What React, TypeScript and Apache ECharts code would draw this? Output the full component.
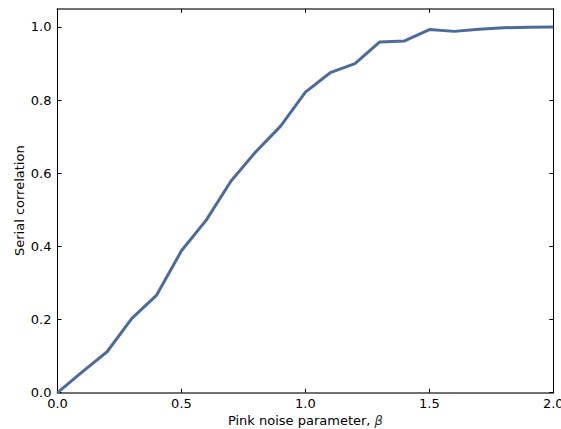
import React, { useEffect, useRef } from "react";
import * as echarts from "echarts";

const betas = [0, 0.1, 0.2, 0.3, 0.4, 0.5, 0.6, 0.7, 0.8, 0.9, 1.0, 1.1, 1.2, 1.3, 1.4, 1.5, 1.6, 1.7, 1.8, 1.9, 2.0];
const serialCorr = [0.0, 0.057, 0.112, 0.203, 0.267, 0.388, 0.472, 0.579, 0.659, 0.729, 0.822, 0.875, 0.9, 0.959, 0.962, 0.993, 0.988, 0.994, 0.998, 0.999, 1.0];
const xTicks = [0, 0.5, 1.0, 1.5, 2.0];
const yTicks = [0, 0.2, 0.4, 0.6, 0.8, 1.0];

const FONT = "DejaVu Sans";

export default function App() {
  const ref = useRef<HTMLDivElement>(null);
  useEffect(() => {
    if (!ref.current) return;
    const chart = echarts.init(ref.current, undefined, { renderer: "svg" });
    const tickStyle = { show: true, inside: true, length: 4, lineStyle: { color: "#000", width: 1 } };
    const hSpine = { show: true, onZero: false, lineStyle: { color: "#707070", width: 2 } };
    const vSpine = { show: true, onZero: false, lineStyle: { color: "#000", width: 1 } };
    chart.setOption({
      animation: false,
      grid: { left: 57.5, right: 7.7, top: 8.7, bottom: 36.3, containLabel: false, outerBoundsMode: "none" },
      xAxis: [
        {
          type: "value",
          position: "bottom",
          min: 0,
          max: 2,
          interval: 0.5,
          axisLine: hSpine,
          axisTick: { ...tickStyle, customValues: xTicks },
          axisLabel: {
            customValues: xTicks,
            formatter: (v: number) => v.toFixed(1),
            color: "#000",
            fontFamily: FONT,
            fontSize: 13,
            margin: 4,
          },
          splitLine: { show: false },
          name: "Pink noise parameter, {b|β}",
          nameLocation: "middle",
          nameGap: 21,
          nameMoveOverlap: false,
          nameTextStyle: {
            color: "#000",
            fontFamily: FONT,
            fontSize: 13,
            rich: { b: { fontStyle: "italic", fontFamily: FONT, fontSize: 13, color: "#333" } },
          },
        },
        {
          type: "value",
          position: "top",
          min: 0,
          max: 2,
          interval: 0.5,
          axisLine: hSpine,
          axisTick: { ...tickStyle, customValues: xTicks },
          axisLabel: { show: false },
          splitLine: { show: false },
        },
      ],
      yAxis: [
        {
          type: "value",
          position: "left",
          min: 0,
          max: 1.05,
          axisLine: vSpine,
          axisTick: { ...tickStyle, customValues: yTicks },
          axisLabel: {
            customValues: yTicks,
            formatter: (v: number) => v.toFixed(1),
            color: "#000",
            fontFamily: FONT,
            fontSize: 13,
            margin: 6,
          },
          splitLine: { show: false },
          name: "Serial correlation",
          nameLocation: "middle",
          nameGap: 32,
          nameMoveOverlap: false,
          nameTextStyle: { color: "#000", fontFamily: FONT, fontSize: 13 },
        },
        {
          type: "value",
          position: "right",
          min: 0,
          max: 1.05,
          axisLine: vSpine,
          axisTick: { ...tickStyle, customValues: yTicks },
          axisLabel: { show: false },
          splitLine: { show: false },
        },
      ],
      series: [
        {
          type: "line",
          xAxisIndex: 0,
          yAxisIndex: 0,
          data: betas.map((b, i) => [b, serialCorr[i]]),
          showSymbol: false,
          symbol: "none",
          lineStyle: { color: "#4C6B9A", width: 3 },
          clip: false,
        },
      ],
    });
    return () => chart.dispose();
  }, []);
  return (
    <div
      ref={ref}
      style={{ position: "fixed", left: 0, top: 0, width: 561, height: 429, background: "#fff" }}
    />
  );
}
